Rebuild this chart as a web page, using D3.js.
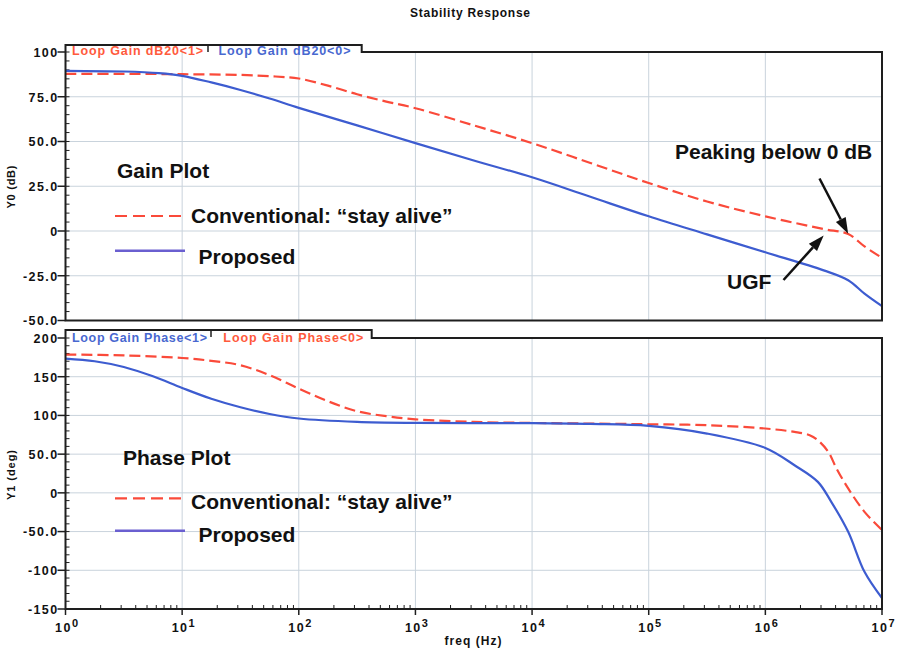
<!DOCTYPE html>
<html><head><meta charset="utf-8">
<script src="https://cdn.jsdelivr.net/npm/d3@7"></script>
<style>body{margin:0;background:#fff} svg{display:block;font-family:"Liberation Sans",Arial,Helvetica,sans-serif}</style>
</head><body><svg id="c" width="897" height="650"></svg>
<script>
// ---------- data ----------
const chartTitle = "Stability Response";
const xLabel = "freq (Hz)";
const gainAxisLabel = "Y0 (dB)";
const phaseAxisLabel = "Y1 (deg)";
const xTickExps = [0, 1, 2, 3, 4, 5, 6, 7];
const gainTicks = [100, 75, 50, 25, 0, -25, -50];
const gainTickLabels = ["100", "75.0", "50.0", "25.0", "0", "-25.0", "-50.0"];
const phaseTicks = [200, 150, 100, 50, 0, -50, -100, -150];
const phaseTickLabels = ["200", "150", "100", "50.0", "0", "-50.0", "-100", "-150"];
const gainTabLabels = ["Loop Gain dB20<1>", "Loop Gain dB20<0>"];
const phaseTabLabels = ["Loop Gain Phase<1>", "Loop Gain Phase<0>"];
const legendLabels = ["Conventional: \u201cstay alive\u201d", "Proposed"];
const panelTitles = ["Gain Plot", "Phase Plot"];
const noteLabels = ["Peaking below 0 dB", "UGF"];

// gain, conventional (red dashed), log10(freq) and dB
const gainConvLogF = [0, 0.5, 1, 1.5, 1.8, 2, 2.25, 2.5, 2.75, 3, 3.5, 4, 4.5, 5, 5.5, 6, 6.5, 6.71, 6.85, 7];
const gainConvDb   = [87.8, 87.8, 87.6, 87.2, 86.3, 85.2, 81.2, 76.4, 72.3, 68.6, 59, 49.1, 38, 26.8, 16.5, 8.2, 1.1, -1.7, -8.6, -15];
// gain, proposed (blue solid)
const gainPropLogF = [0, 0.5, 0.8, 1, 1.25, 1.5, 1.75, 2, 2.5, 3, 3.5, 4, 4.5, 5, 5.5, 6, 6.5, 6.71, 6.85, 7];
const gainPropDb   = [89.5, 89.1, 88.2, 86.7, 83, 78.8, 74, 68.8, 59, 49.1, 39.4, 30, 19.1, 8.2, -1.9, -11.9, -22, -27.5, -35, -42];
// phase, conventional (red dashed)
const phaseConvLogF = [0, 0.5, 1, 1.25, 1.5, 1.75, 2, 2.25, 2.5, 2.75, 3, 3.5, 4, 4.5, 5, 5.5, 6, 6.25, 6.38, 6.45, 6.54, 6.61, 6.71, 6.85, 7];
const phaseConvDeg  = [178.6, 177.5, 174.2, 170.5, 164.8, 152, 134.7, 118.3, 105.4, 99, 95, 91.6, 90.3, 89.5, 88.6, 87.4, 83.1, 78.7, 74.5, 68, 52.9, 31.5, 5.7, -24.5, -48];
// phase, proposed (blue solid)
const phasePropLogF = [0, 0.25, 0.5, 0.75, 1, 1.25, 1.5, 1.75, 2, 2.5, 3, 4, 4.5, 5, 5.5, 6, 6.25, 6.45, 6.565, 6.71, 6.85, 7];
const phasePropDeg  = [173.4, 170, 162.6, 150.5, 135.5, 121.5, 110.5, 101.8, 96, 91.6, 90.3, 90, 89, 86.5, 76.6, 58, 35.7, 14.2, -11.6, -50.3, -102, -136];

// ---------- layout / style ----------
const RED = "#fa4a3a", BLUE = "#3d5cd0", LEGBLUE = "#6a5fd0";
const TABRED = "#ff5a3c", TABBLUE = "#4868d0";
const GRID = "#c9d3dc", FRAME = "#1e1e1e";
const L = 65.5, R = 882;
const svg = d3.select("#c");

const x = d3.scaleLog().domain([1, 1e7]).range([L, R]);
const yG = d3.scaleLinear().domain([-50, 100]).range([320.5, 52]);
const yP = d3.scaleLinear().domain([-150, 200]).range([609, 338]);

const zip = (a, b) => a.map((v, i) => [v, b[i]]);

// title
svg.append("text").attr("x", 470).attr("y", 17).attr("text-anchor", "middle")
  .attr("font-size", 12).attr("font-weight", "bold").attr("fill", "#111")
  .attr("textLength", 120).attr("lengthAdjust", "spacing").text(chartTitle);

function panel(cfg) {
  const { y, ticks, tickLabels, minorStep, tabTop, tabRight, tabLabels, tabColors, tabXs, tabLens, sepX, tabBase, series, axisLabel, axisLabelY, axisLabelLen, id } = cfg;
  const [y0, y1] = y.range(); // bottom, top
  const g = svg.append("g");
  svg.append("clipPath").attr("id", id).append("rect")
    .attr("x", L).attr("y", tabTop).attr("width", R - L).attr("height", y0 - tabTop);
  // grid
  const grid = g.append("g").attr("stroke", GRID).attr("stroke-width", 1);
  xTickExps.slice(1, -1).forEach(k => {
    grid.append("line").attr("x1", x(10 ** k)).attr("x2", x(10 ** k)).attr("y1", y1).attr("y2", y0);
  });
  ticks.filter(t => t !== y.domain()[0] && t !== y.domain()[1]).forEach(t => {
    grid.append("line").attr("x1", L).attr("x2", R).attr("y1", y(t)).attr("y2", y(t));
  });
  // minor ticks on left axis (inside)
  const [dmin, dmax] = y.domain();
  for (let v = dmin; v <= dmax + 1e-9; v += minorStep) {
    g.append("line").attr("x1", L).attr("x2", L + 4).attr("y1", y(v)).attr("y2", y(v))
      .attr("stroke", FRAME).attr("stroke-width", 1);
  }
  // major ticks + labels
  ticks.forEach((t, i) => {
    g.append("line").attr("x1", L - 8).attr("x2", L).attr("y1", y(t)).attr("y2", y(t))
      .attr("stroke", FRAME).attr("stroke-width", 1.5);
    g.append("text").attr("x", L - 7).attr("y", y(t) + 4.8).attr("text-anchor", "end")
      .attr("font-size", 12.5).attr("font-weight", "bold").attr("fill", "#111")
      .attr("letter-spacing", "1.4px").text(tickLabels[i]);
  });
  // curves
  const line = d3.line().x(d => x(10 ** d[0])).y(d => y(d[1])).curve(d3.curveCatmullRom.alpha(0.5));
  const cg = g.append("g").attr("clip-path", `url(#${id})`);
  series.forEach(s => {
    cg.append("path").attr("d", line(s.pts)).attr("fill", "none").attr("stroke", s.color)
      .attr("stroke-width", 2.2).attr("stroke-dasharray", s.dash ? "11,5" : null);
  });
  // frame with tab
  g.append("path")
    .attr("d", `M${L},${tabTop}H${tabRight}V${y1}H${R}V${y0}H${L}Z`)
    .attr("fill", "none").attr("stroke", FRAME).attr("stroke-width", 2);
  // tab labels
  tabLabels.forEach((t, i) => {
    g.append("text").attr("x", tabXs[i]).attr("y", tabBase).attr("font-size", 12.5)
      .attr("font-weight", "bold").attr("fill", tabColors[i])
      .attr("textLength", tabLens[i]).attr("lengthAdjust", "spacing").text(t);
  });
  g.append("line").attr("x1", sepX).attr("x2", sepX).attr("y1", tabTop + 1).attr("y2", tabTop + 7)
    .attr("stroke", FRAME).attr("stroke-width", 1.5);
  // y axis label
  svg.append("text").attr("transform", `translate(15,${axisLabelY}) rotate(-90)`)
    .attr("text-anchor", "middle").attr("font-size", 11).attr("font-weight", "bold").attr("fill", "#111")
    .attr("textLength", axisLabelLen).attr("lengthAdjust", "spacing").text(axisLabel);
  return g;
}

panel({
  id: "clipG", y: yG, ticks: gainTicks, tickLabels: gainTickLabels, minorStep: 5,
  tabTop: 45, tabRight: 361.7, tabLabels: gainTabLabels, tabColors: [TABRED, TABBLUE],
  tabXs: [72, 218.5], tabLens: [131, 132], sepX: 208, tabBase: 54.5,
  axisLabel: gainAxisLabel, axisLabelY: 187, axisLabelLen: 43,
  series: [
    { pts: zip(gainConvLogF, gainConvDb), color: RED, dash: true },
    { pts: zip(gainPropLogF, gainPropDb), color: BLUE, dash: false }
  ]
});
panel({
  id: "clipP", y: yP, ticks: phaseTicks, tickLabels: phaseTickLabels, minorStep: 10,
  tabTop: 330, tabRight: 371.7, tabLabels: phaseTabLabels, tabColors: [TABBLUE, TABRED],
  tabXs: [72, 223.3], tabLens: [135, 140], sepX: 211, tabBase: 341.5,
  axisLabel: phaseAxisLabel, axisLabelY: 475, axisLabelLen: 50,
  series: [
    { pts: zip(phaseConvLogF, phaseConvDeg), color: RED, dash: true },
    { pts: zip(phasePropLogF, phasePropDeg), color: BLUE, dash: false }
  ]
});

// x axis (log) ticks on bottom panel
const yb = yP.range()[0];
const xa = svg.append("g");
xTickExps.forEach(k => {
  xa.append("line").attr("x1", x(10 ** k)).attr("x2", x(10 ** k)).attr("y1", yb).attr("y2", yb + 6)
    .attr("stroke", FRAME).attr("stroke-width", 1.5);
  if (k < 7) for (let m = 2; m <= 9; m++) {
    const xv = x(m * 10 ** k);
    xa.append("line").attr("x1", xv).attr("x2", xv).attr("y1", yb).attr("y2", yb - 4)
      .attr("stroke", FRAME).attr("stroke-width", 1);
  }
  const t = xa.append("text").attr("x", x(10 ** k) + 1).attr("y", 631.5).attr("text-anchor", "middle")
    .attr("font-weight", "bold").attr("fill", "#111");
  t.append("tspan").attr("font-size", 12.5).attr("letter-spacing", "1.5px").text("10");
  t.append("tspan").attr("font-size", 11).attr("dy", -4.5).text(k);
});
svg.append("text").attr("x", 473).attr("y", 645).attr("text-anchor", "middle")
  .attr("font-size", 12).attr("font-weight", "bold").attr("fill", "#111")
  .attr("textLength", 57).attr("lengthAdjust", "spacing").text(xLabel);

// panel annotations (legend)
const ann = svg.append("g").attr("font-size", 21).attr("font-weight", "bold").attr("fill", "#111");
function legend(titleX, titleY, title, dashY, convY, solidY, propY) {
  ann.append("text").attr("x", titleX).attr("y", titleY).text(title);
  svg.append("line").attr("x1", 115).attr("x2", 182).attr("y1", dashY).attr("y2", dashY)
    .attr("stroke", RED).attr("stroke-width", 2.2).attr("stroke-dasharray", "12,6");
  ann.append("text").attr("x", 191).attr("y", convY).text(legendLabels[0]);
  svg.append("line").attr("x1", 115).attr("x2", 185).attr("y1", solidY).attr("y2", solidY)
    .attr("stroke", LEGBLUE).attr("stroke-width", 2.5);
  ann.append("text").attr("x", 198.5).attr("y", propY).text(legendLabels[1]);
}
legend(117, 178, panelTitles[0], 216, 223, 250.7, 264);
legend(123, 465, panelTitles[1], 498.3, 508.5, 530.7, 542);

// notes with arrows
ann.append("text").attr("x", 675).attr("y", 159).text(noteLabels[0]);
ann.append("text").attr("x", 727).attr("y", 288.5).text(noteLabels[1]);
function arrow(x1, y1, x2, y2) {
  const a = Math.atan2(y2 - y1, x2 - x1), len = 16, w = 5.5;
  const bx = x2 - len * Math.cos(a), by = y2 - len * Math.sin(a);
  svg.append("line").attr("x1", x1).attr("y1", y1).attr("x2", bx).attr("y2", by)
    .attr("stroke", "#111").attr("stroke-width", 2.5);
  svg.append("path").attr("fill", "#111").attr("d",
    `M${x2},${y2}L${bx + w * Math.sin(a)},${by - w * Math.cos(a)}L${bx - w * Math.sin(a)},${by + w * Math.cos(a)}Z`);
}
arrow(819.5, 178.5, x(10 ** 6.71), yG(-1.5));
arrow(783.5, 280, x(10 ** 6.5), yG(-2.5));
</script></body></html>
